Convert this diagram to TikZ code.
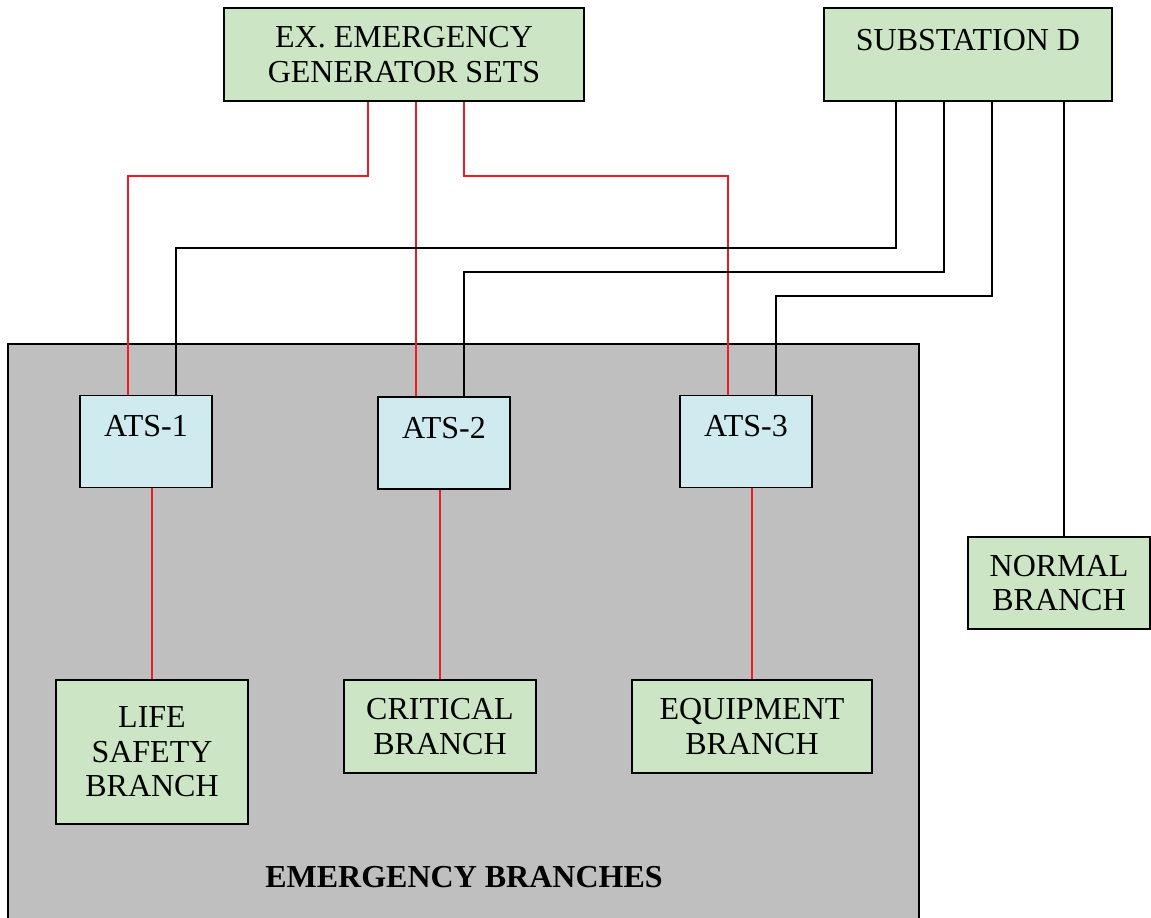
\documentclass[tikz,border=0pt]{standalone}
\usepackage{fontspec}
\setmainfont{Liberation Serif}
\usepackage{tikz}

\definecolor{boxgreen}{RGB}{204,229,197}
\definecolor{boxcyan}{RGB}{208,235,240}
\definecolor{areagray}{RGB}{191,191,191}
\definecolor{feedred}{RGB}{237,28,36}

\tikzset{
  greenbox/.style={draw=black,line width=1.5pt,fill=boxgreen,align=center,inner sep=0pt,
    font=\fontsize{32}{34.5}\selectfont},
  topbox/.style={greenbox,text height=21pt,text depth=30pt,inner ysep=21pt},
  atsbox/.style={draw=black,line width=1.5pt,fill=boxcyan,minimum width=132pt,
    text height=21pt,text depth=31pt,inner ysep=20pt,font=\fontsize{32}{34.5}\selectfont},
  redline/.style={draw=feedred,line width=1.3pt},
  blackline/.style={draw=black,line width=1.3pt}
}

\begin{document}
\begin{tikzpicture}[x=1pt,y=-1pt]
	\useasboundingbox (0,0) rectangle (1151,918);

	%Shape: Rectangle (emergency area)
	\draw [fill=areagray,line width=1.5pt] (8,922) -- (8,344) -- (919,344) -- (919,922) ;

	% Sources
	\node [greenbox,minimum width=360pt,minimum height=93pt] (gen) at (404,54.5) {EX. EMERGENCY\\GENERATOR SETS};
	\node [topbox,minimum width=288pt] (subd) at (968,54.5) {SUBSTATION D};

	% Transfer switches
	\node [atsbox] (ats1) at (146,441.5) {ATS-1};
	\node [atsbox] (ats2) at (444,443) {ATS-2};
	\node [atsbox] (ats3) at (746,441.5) {ATS-3};

	% Branches
	\node [greenbox,minimum width=192pt,minimum height=144pt] (life) at (152,752) {LIFE\\SAFETY\\BRANCH};
	\node [greenbox,minimum width=192pt,minimum height=93pt] (crit) at (440,726.5) {CRITICAL\\BRANCH};
	\node [greenbox,minimum width=240pt,minimum height=93pt] (equip) at (752,726.5) {EQUIPMENT\\BRANCH};
	\node [greenbox,minimum width=182pt,minimum height=92pt] (norm) at (1059,583) {NORMAL\\BRANCH};

	% Text Node
	\node [font=\fontsize{32}{34.5}\selectfont\bfseries,anchor=base] (area) at (464,887) {EMERGENCY BRANCHES};

	%Straight Lines (generator feeds)
	\draw [redline] (gen.south -| 368,0) |- (128,176) -- (ats1.north -| 128,0) ;
	\draw [redline] (gen.south -| 416,0) -- (ats2.north -| 416,0) ;
	\draw [redline] (gen.south -| 464,0) |- (728,176) -- (ats3.north -| 728,0) ;

	%Straight Lines (normal feeds)
	\draw [blackline] (subd.south -| 896,0) |- (176,248) -- (ats1.north -| 176,0) ;
	\draw [blackline] (subd.south -| 944,0) |- (464,272) -- (ats2.north -| 464,0) ;
	\draw [blackline] (subd.south -| 992,0) |- (776,296) -- (ats3.north -| 776,0) ;
	\draw [blackline] (subd.south -| 1064,0) -- (norm.north -| 1064,0) ;

	%Straight Lines (branch feeds)
	\draw [redline] (ats1.south -| 152,0) -- (life.north -| 152,0) ;
	\draw [redline] (ats2.south -| 440,0) -- (crit.north) ;
	\draw [redline] (ats3.south -| 752,0) -- (equip.north) ;

\end{tikzpicture}
\end{document}
